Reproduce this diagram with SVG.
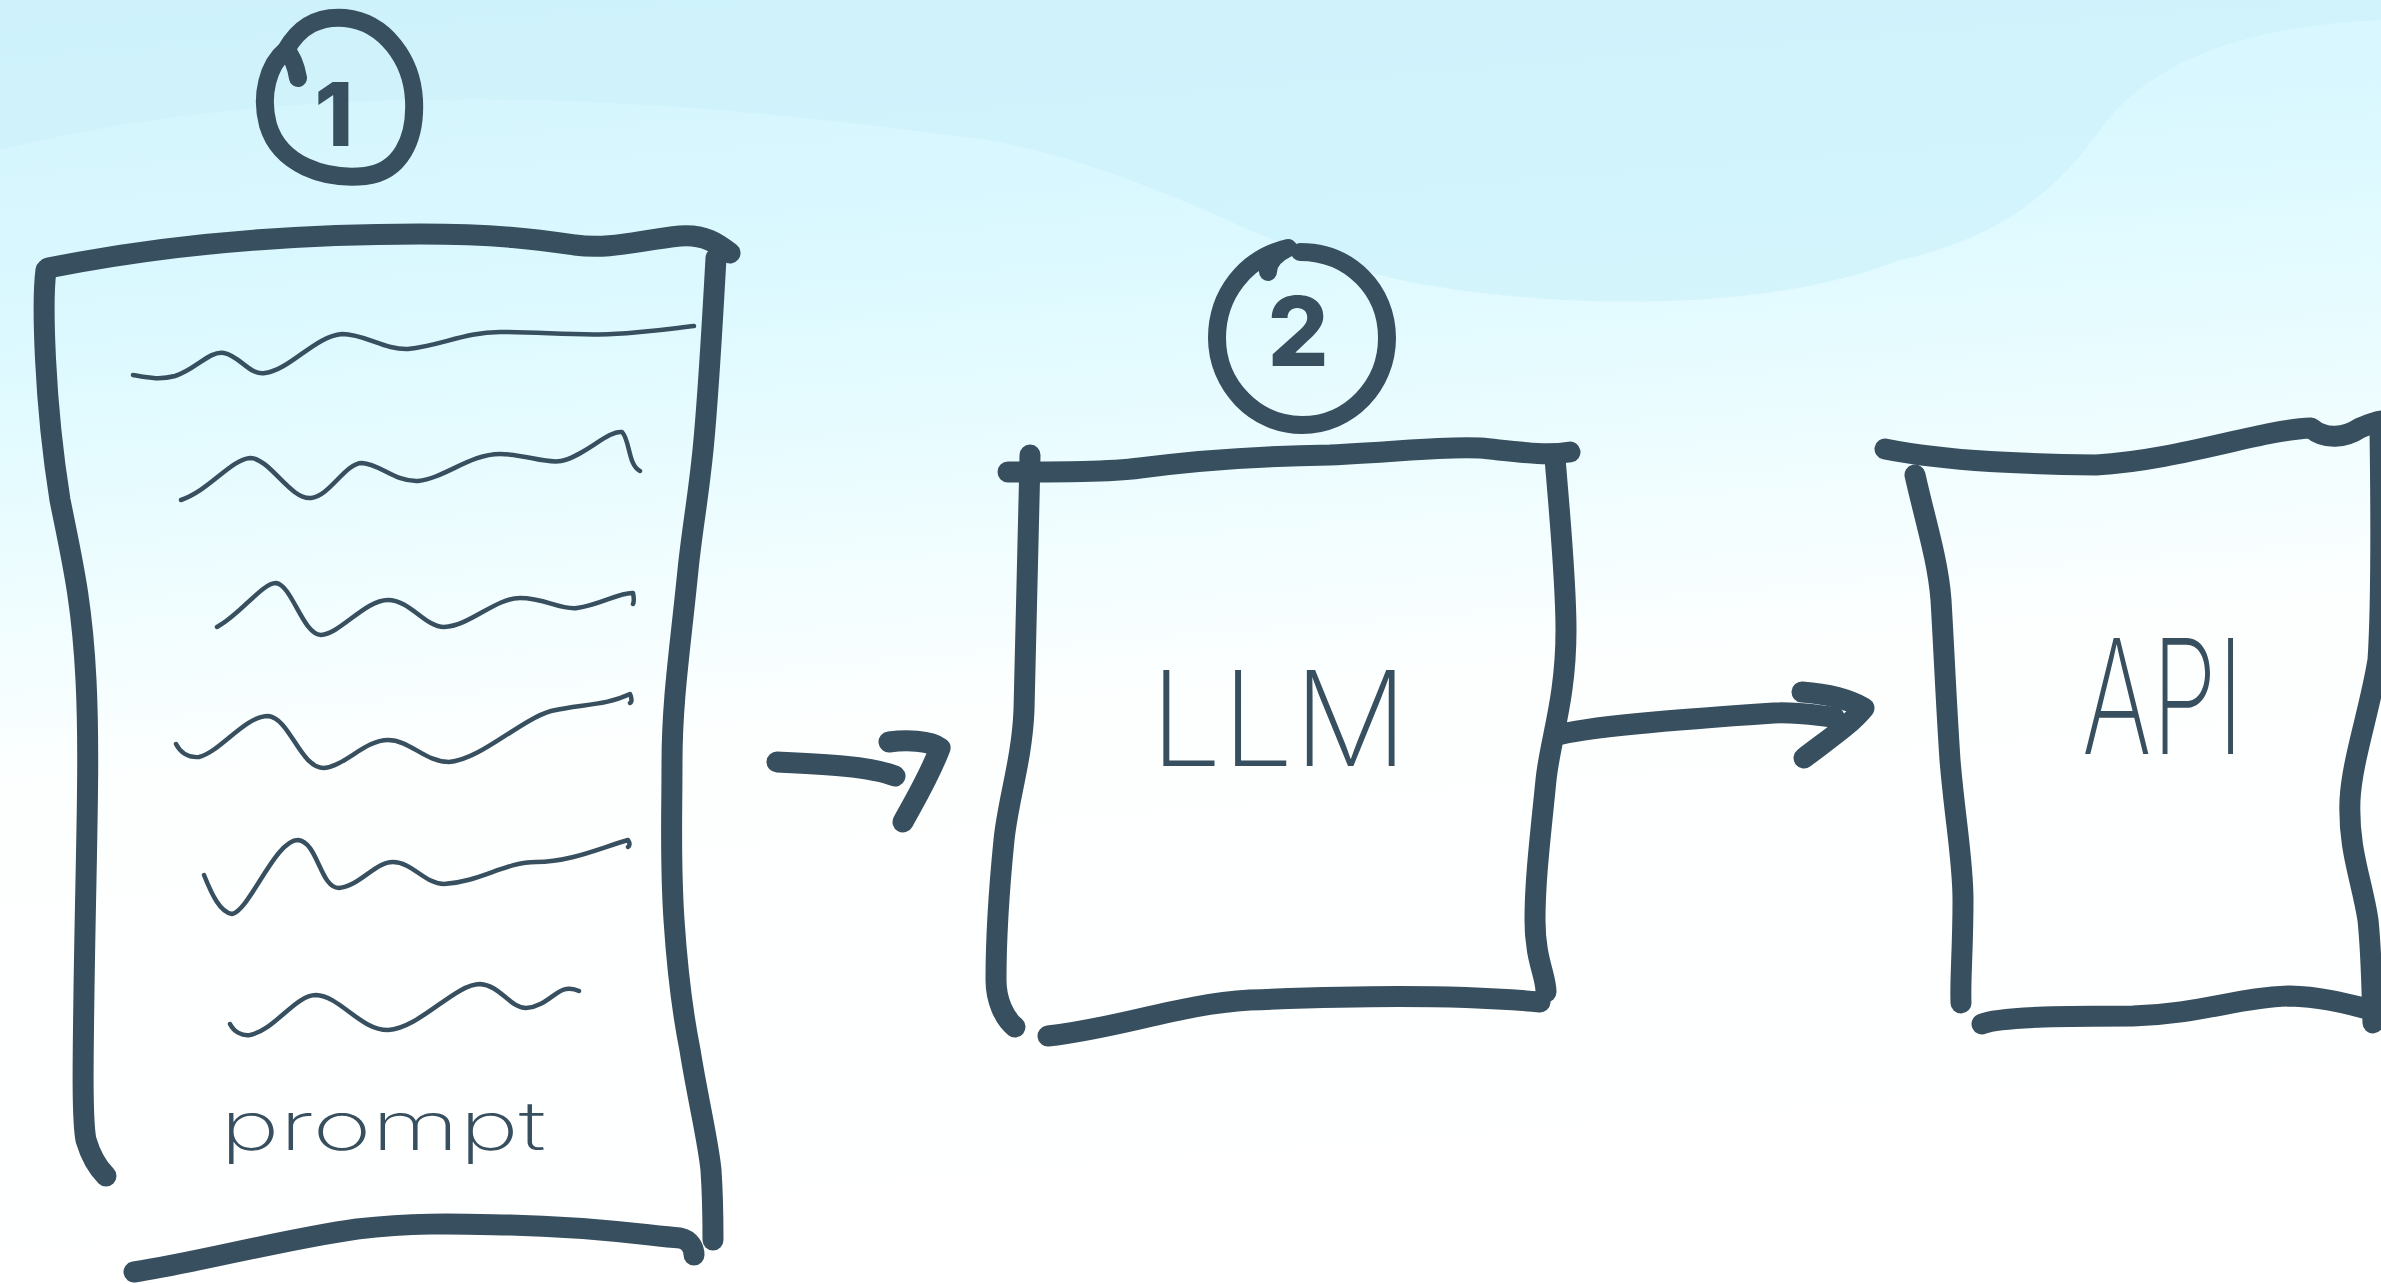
<svg xmlns="http://www.w3.org/2000/svg" width="2381" height="1284" viewBox="0 0 2381 1284">
<defs>
<linearGradient id="bg" x1="0" y1="0" x2="0.15" y2="1">
<stop offset="0" stop-color="#d2f3fc"/>
<stop offset="0.25" stop-color="#dbf9ff"/>
<stop offset="0.45" stop-color="#eefdff"/>
<stop offset="0.6" stop-color="#fdffff"/>
<stop offset="1" stop-color="#ffffff"/>
</linearGradient>
<style>
.ink{fill:none;stroke:#374f5e;stroke-linecap:round;stroke-linejoin:round}
.thick{stroke-width:21}
.thin{stroke-width:4.5}
.hand{fill:#374f5e;font-family:Inter,Lato,"Open Sans",sans-serif;font-weight:200}
.num{fill:#374f5e;font-family:Inter,"Open Sans",sans-serif;font-weight:800}
</style>
</defs>
<rect x="0" y="0" width="2381" height="1284" fill="url(#bg)"/>
<path d="M0,0 H2381 V20 C2250,25 2150,60 2100,130 C2050,200 1990,240 1900,260 C1800,300 1650,310 1500,295 C1400,285 1330,265 1250,230 C1150,185 1050,145 950,135 C800,115 600,95 400,100 C250,104 120,120 0,150 Z" fill="#cbf0fa" opacity="0.6"/>

<g id="badge-1">
<path class="ink" stroke-width="18" d="M286,50 C300,25 320,16 345,18 C385,22 412,60 414,100 C416,140 400,172 365,176 C325,180 280,165 268,125 C260,95 268,65 286,50 C292,56 296,66 298,78"/>
<text class="num" x="334" y="146" font-size="88" text-anchor="middle">1</text>
</g>

<g id="node-prompt">
<path class="ink thick" d="M48,268 L80,262 C180,244 300,234 420,234 C500,234 540,240 575,245 C610,250 640,240 680,236 C705,234 718,244 730,253"/>
<path class="ink thick" d="M46,270 C42,300 44,400 60,500 C72,560 82,600 86,680 C90,760 86,850 84,990 C83,1060 82,1120 86,1140 C92,1160 100,1170 106,1176"/>
<path class="ink thick" d="M716,258 C712,330 708,400 703,450 C698,500 692,530 688,570 C680,650 672,700 672,763 C672,820 670,860 674,920 C678,980 684,1020 690,1050 C698,1100 708,1140 711,1170 C713,1200 713,1225 713,1240"/>
<path class="ink thick" d="M134,1272 C200,1262 280,1240 357,1229 C420,1222 460,1224 510,1225 C600,1227 650,1236 680,1238 C690,1240 694,1248 694,1255"/>
<path class="ink thin" d="M133,375 C150,378 160,380 175,376 C195,370 210,350 224,353 C240,356 250,376 265,373 C290,370 315,336 342,334 C365,334 385,350 408,349 C440,346 465,332 500,332 C540,332 580,336 612,334 C650,332 675,328 694,326"/>
<path class="ink thin" d="M181,500 C210,490 230,460 250,458 C270,458 290,500 311,498 C330,496 345,463 362,463 C380,464 395,482 418,481 C445,478 470,454 500,454 C525,454 545,464 561,461 C585,456 608,430 622,432 C630,440 628,465 640,471"/>
<path class="ink thin" d="M217,627 C240,615 262,583 276,583 C292,585 303,635 321,635 C340,634 365,600 388,600 C410,600 425,627 444,627 C470,626 495,598 520,598 C545,598 560,610 577,608 C600,605 620,592 633,593 C634,598 634,602 633,604"/>
<path class="ink thin" d="M176,744 C180,752 188,758 199,757 C220,752 245,716 268,716 C290,718 300,768 324,768 C345,766 365,740 388,740 C410,740 425,762 449,762 C480,760 520,720 551,711 C580,704 605,706 630,694 C632,698 632,702 630,703"/>
<path class="ink thin" d="M204,875 C212,895 220,912 232,914 C250,910 275,840 298,840 C318,842 320,888 339,888 C360,886 375,862 393,862 C412,862 425,884 444,884 C480,882 505,862 536,862 C570,862 600,848 628,840 C630,843 630,846 628,847"/>
<path class="ink thin" d="M230,1024 C234,1032 242,1036 250,1035 C275,1030 295,995 316,995 C340,996 360,1030 388,1030 C420,1028 455,984 480,984 C500,985 510,1008 526,1008 C545,1007 556,990 566,989 C572,988 577,990 579,991"/>
<text class="hand" x="220" y="1150" font-size="68" textLength="326" lengthAdjust="spacingAndGlyphs">prompt</text>
</g>

<g id="badge-2">
<path class="ink" stroke-width="18" d="M1300,252 C1350,252 1387,290 1387,338 C1387,385 1350,425 1302,425 C1255,425 1217,385 1217,338 C1217,295 1245,258 1288,248 C1276,254 1268,262 1268,272"/>
<text class="num" x="1298" y="366" font-size="96" text-anchor="middle">2</text>
</g>

<g id="node-llm">
<path class="ink thick" d="M1008,472 C1060,472 1110,472 1140,468 C1200,460 1260,456 1330,455 C1400,452 1440,446 1480,448 C1520,452 1545,456 1570,452"/>
<path class="ink thick" d="M1030,455 C1028,550 1026,650 1024,710 C1022,760 1008,800 1004,840 C998,900 996,950 996,980 C996,1000 1004,1018 1015,1027"/>
<path class="ink thick" d="M1555,458 C1560,520 1566,580 1566,630 C1566,700 1550,740 1546,780 C1540,840 1535,880 1535,920 C1535,960 1546,975 1546,992"/>
<path class="ink thick" d="M1048,1036 C1120,1028 1180,1004 1250,1000 C1350,996 1450,994 1540,1002"/>
<text class="hand" x="1150" y="766" font-size="132" textLength="258" lengthAdjust="spacingAndGlyphs">LLM</text>
</g>

<g id="node-api">
<path class="ink thick" d="M1885,449 C1950,462 2030,464 2096,465 C2180,460 2260,430 2311,428 C2325,440 2345,438 2360,428 C2370,424 2378,421 2381,421"/>
<path class="ink thick" d="M1915,475 C1925,520 1938,560 1941,600 C1944,650 1946,700 1950,760 C1955,820 1963,860 1963,900 C1963,950 1960,980 1961,1003"/>
<path class="ink thick" d="M1982,1024 C2000,1016 2080,1016 2133,1016 C2200,1014 2240,997 2290,996 C2330,997 2360,1008 2381,1012"/>
<path class="ink thick" d="M2380,428 C2381,500 2382,600 2378,660 C2370,710 2352,760 2350,800 C2348,850 2362,880 2368,920 C2372,960 2372,1000 2373,1023"/>
<text class="hand" x="2082" y="754" font-size="160" textLength="162" lengthAdjust="spacingAndGlyphs">API</text>
</g>

<g id="connectors">
<path class="ink" stroke-width="21" d="M777,762 C820,764 870,766 895,776"/>
<path class="ink" stroke-width="21" d="M889,742 C905,740 930,740 940,748 C930,775 915,800 903,822"/>
<path class="ink thick" d="M1562,734 C1600,725 1700,718 1774,713 C1800,712 1820,716 1834,717"/>
<path class="ink thick" d="M1802,692 C1830,694 1850,700 1864,708 C1850,725 1830,738 1804,758"/>
</g>
</svg>
